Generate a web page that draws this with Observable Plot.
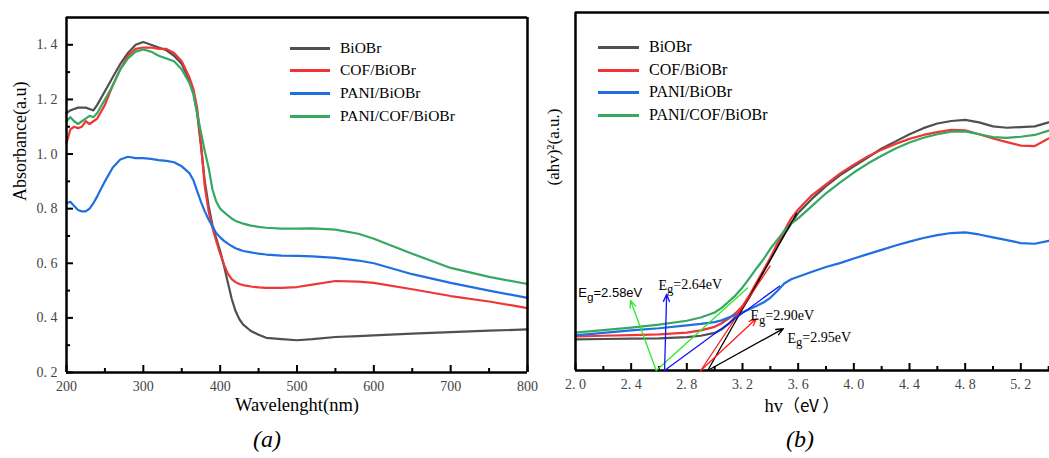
<!DOCTYPE html>
<html><head><meta charset="utf-8">
<script src="https://cdn.jsdelivr.net/npm/d3@7"></script>
<script src="https://cdn.jsdelivr.net/npm/@observablehq/plot@0.6"></script>
<style>
body{margin:0;background:#fff;}
#wrap{position:relative;width:1049px;height:458px;overflow:hidden;background:#fff;}
#left,#right{position:absolute;top:0;}
#left{left:0px;width:545px;} #right{left:540px;width:546px;}
#left svg,#right svg{max-width:none !important;}
.row{position:absolute;display:flex;align-items:center;height:22px;white-space:nowrap;font-family:"Liberation Serif",serif;color:#000;}
.sw{display:inline-block;width:41px;height:3px;margin-right:10px;}
.cap{position:absolute;font-family:"Liberation Serif",serif;font-style:italic;font-size:24px;transform:translateX(-50%);}
</style></head>
<body><div id="wrap"><div id="left"></div><div id="right"></div></div>
<script>
// ---------- shared ----------
const seriesNames = ["BiOBr", "COF/BiOBr", "PANI/BiOBr", "PANI/COF/BiOBr"];
const seriesColors = ["#505050", "#ee3636", "#1f6fe0", "#35a862"];
const SERIF = "'Liberation Serif', 'Times New Roman', serif";

// ---------- panel (a): absorbance ----------
const wavelength = [200,205,210,215,220,225,230,235,240,250,260,270,280,290,300,310,320,330,340,350,360,365,370,375,380,385,390,395,400,405,410,415,420,425,430,440,450,460,480,500,520,550,580,600,650,700,750,800];
const absBiOBr   = [1.15,1.16,1.165,1.17,1.17,1.17,1.165,1.16,1.18,1.23,1.28,1.33,1.37,1.40,1.41,1.40,1.39,1.38,1.36,1.33,1.27,1.23,1.15,1.03,0.90,0.81,0.74,0.69,0.645,0.59,0.53,0.47,0.425,0.395,0.375,0.352,0.338,0.327,0.322,0.318,0.322,0.33,0.333,0.336,0.342,0.348,0.353,0.358];
const absCOF     = [1.04,1.09,1.10,1.095,1.10,1.12,1.11,1.12,1.13,1.18,1.25,1.31,1.36,1.385,1.39,1.39,1.385,1.385,1.37,1.34,1.28,1.24,1.17,1.04,0.88,0.79,0.73,0.68,0.635,0.595,0.562,0.542,0.531,0.524,0.52,0.515,0.512,0.51,0.51,0.513,0.522,0.535,0.533,0.528,0.505,0.48,0.46,0.436];
const absPANI    = [0.82,0.825,0.81,0.795,0.79,0.79,0.80,0.82,0.845,0.90,0.95,0.98,0.99,0.985,0.985,0.982,0.978,0.975,0.97,0.955,0.93,0.905,0.865,0.825,0.79,0.76,0.735,0.71,0.695,0.682,0.672,0.663,0.655,0.65,0.645,0.64,0.635,0.632,0.628,0.627,0.625,0.62,0.61,0.60,0.56,0.528,0.50,0.473];
const absPANICOF = [1.12,1.135,1.12,1.11,1.12,1.13,1.14,1.135,1.15,1.20,1.25,1.31,1.35,1.375,1.383,1.375,1.36,1.35,1.34,1.31,1.26,1.22,1.15,1.08,1.01,0.95,0.87,0.825,0.80,0.787,0.775,0.764,0.755,0.75,0.745,0.738,0.733,0.73,0.727,0.727,0.728,0.723,0.708,0.69,0.635,0.583,0.55,0.524];
const absXTicksMajor = [200,300,400,500,600,700,800];
const absXTicksMinor = [250,350,450,550,650,750];
const absYTicksMajor = [0.2,0.4,0.6,0.8,1.0,1.2,1.4];
const absYTicksMinor = [0.3,0.5,0.7,0.9,1.1,1.3];
const absXDomain = [200, 800];
const absYDomain = [0.2, 1.5];

// ---------- panel (b): Tauc plot ----------
const energy = [2.0,2.2,2.4,2.6,2.8,2.9,3.0,3.05,3.1,3.15,3.2,3.25,3.3,3.35,3.4,3.45,3.5,3.55,3.6,3.7,3.8,3.9,4.0,4.1,4.2,4.3,4.4,4.5,4.6,4.7,4.8,4.9,5.0,5.1,5.2,5.3,5.4];
const taucBiOBr   = [0.087,0.088,0.089,0.090,0.093,0.097,0.105,0.115,0.13,0.15,0.175,0.205,0.24,0.275,0.31,0.345,0.38,0.41,0.44,0.48,0.515,0.545,0.57,0.595,0.62,0.64,0.66,0.677,0.69,0.697,0.70,0.693,0.682,0.678,0.68,0.682,0.693];
const taucCOF     = [0.095,0.097,0.099,0.101,0.106,0.112,0.122,0.132,0.145,0.16,0.18,0.21,0.245,0.28,0.315,0.355,0.39,0.425,0.45,0.49,0.52,0.55,0.575,0.598,0.617,0.633,0.647,0.658,0.666,0.672,0.671,0.66,0.648,0.638,0.628,0.627,0.648];
const taucPANI    = [0.098,0.105,0.112,0.118,0.126,0.130,0.135,0.14,0.148,0.155,0.163,0.171,0.18,0.19,0.203,0.222,0.243,0.255,0.262,0.276,0.289,0.30,0.313,0.325,0.337,0.349,0.36,0.37,0.378,0.384,0.386,0.38,0.372,0.364,0.356,0.354,0.362];
const taucPANICOF = [0.106,0.113,0.12,0.128,0.139,0.148,0.162,0.175,0.192,0.21,0.232,0.258,0.285,0.31,0.34,0.365,0.39,0.41,0.425,0.46,0.495,0.525,0.553,0.578,0.60,0.62,0.637,0.65,0.66,0.667,0.668,0.66,0.652,0.65,0.653,0.658,0.67];
const eVTicksMajor = [2.0,2.4,2.8,3.2,3.6,4.0,4.4,4.8,5.2,5.6];
const eVTicksMinor = [2.2,2.6,3.0,3.4,3.8,4.2,4.6,5.0,5.4];
const eVTickLabels = [2.0,2.4,2.8,3.2,3.6,4.0,4.4,4.8,5.2];
const eVXDomain = [2.0, 5.6];
const taucYDomain = [0, 1];

// band-gap tangents and annotation arrows (order: BiOBr, COF/BiOBr, PANI/BiOBr, PANI/COF/BiOBr)
const bandGap      = [2.95, 2.90, 2.64, 2.58];
const tangentEndX  = [3.59, 3.40, 3.47, 3.24];
const tangentEndY  = [0.44, 0.293, 0.237, 0.232];
const tangentColor = ["#000000", "#ff1a1a", "#1010ff", "#2ee82e"];
const arrowHeadX   = [3.494, 3.30, 2.655, 2.395];
const arrowHeadY   = [0.117, 0.145, 0.213, 0.196];
const egLabelX     = [3.523, 3.257, 2.596, 2.02];
const egLabelY     = [0.078, 0.14, 0.226, 0.204];
const egLabelText  = ["Eg=2.95eV", "Eg=2.90eV", "Eg=2.64eV", "Eg=2.58eV"];

// ---------- build tables ----------
const absSeries = [absBiOBr, absCOF, absPANI, absPANICOF];
const absRows = absSeries.flatMap((vals, s) => vals.map((v, i) => ({x: wavelength[i], y: v, s: seriesNames[s]})));
const taucSeries = [taucBiOBr, taucCOF, taucPANI, taucPANICOF];
const taucRows = taucSeries.flatMap((vals, s) => vals.map((v, i) => ({x: energy[i], y: v, s: seriesNames[s]})));
const fmt = d => d.toFixed(1).replace(".", ". ");

// thick frame drawn as rules on the domain edges; inward ticks as short rules
function frameMarks(xd, yd, sides) {
  const m = [];
  if (sides.includes("b")) m.push(Plot.ruleY([yd[0]], {stroke: "#000", strokeWidth: 2.5}));
  if (sides.includes("t")) m.push(Plot.ruleY([yd[1]], {stroke: "#000", strokeWidth: 2.5}));
  if (sides.includes("l")) m.push(Plot.ruleX([xd[0]], {stroke: "#000", strokeWidth: 2.5}));
  if (sides.includes("r")) m.push(Plot.ruleX([xd[1]], {stroke: "#000", strokeWidth: 2.5}));
  return m;
}
function xTickMarks(ticks, yd, frac) {
  return Plot.ruleX(ticks, {x: d => d, y1: () => yd[0], y2: () => yd[0] + (yd[1] - yd[0]) * frac, stroke: "#000", strokeWidth: 2});
}
function yTickMarks(ticks, xd, frac) {
  return Plot.ruleY(ticks, {y: d => d, x1: () => xd[0], x2: () => xd[0] + (xd[1] - xd[0]) * frac, stroke: "#000", strokeWidth: 2});
}

const left = Plot.plot({
  width: 545, height: 420,
  marginLeft: 66, marginRight: 18, marginTop: 17, marginBottom: 48,
  x: {domain: absXDomain},
  y: {domain: absYDomain},
  color: {domain: seriesNames, range: seriesColors},
  marks: [
    Plot.line(absRows, {x: "x", y: "y", z: "s", stroke: "s", strokeWidth: 2.2}),
    ...frameMarks(absXDomain, absYDomain, "btlr"),
    xTickMarks(absXTicksMinor, absYDomain, 4 / 355),
    xTickMarks(absXTicksMajor, absYDomain, 7 / 355),
    yTickMarks(absYTicksMinor, absXDomain, 4 / 461),
    yTickMarks(absYTicksMajor, absXDomain, 7 / 461),
    Plot.axisX(absXTicksMajor, {tickSize: 0, tickPadding: 9, fontSize: 14, fill: "#444", fontFamily: SERIF, label: null, tickFormat: d => String(d)}),
    Plot.axisY(absYTicksMajor, {tickSize: 0, tickPadding: 9, fontSize: 14, fill: "#444", fontFamily: SERIF, label: null, tickFormat: fmt}),
    Plot.text(["Wavelenght(nm)"], {text: d => d, frameAnchor: "bottom", dy: 38, fontSize: 18.5, fill: "#000", fontFamily: SERIF}),
    Plot.text(["Absorbance(a.u)"], {text: d => d, frameAnchor: "left", dx: -46, dy: 6, rotate: -90, fontSize: 18, fill: "#000", fontFamily: SERIF})
  ]
});
left.setAttribute("font-family", SERIF);
document.getElementById("left").appendChild(left);

const rightMarks = [
  Plot.line(taucRows, {x: "x", y: "y", z: "s", stroke: "s", strokeWidth: 2.2}),
  ...frameMarks(eVXDomain, taucYDomain, "btl"),
  xTickMarks(eVTicksMinor, taucYDomain, 4 / 358),
  xTickMarks(eVTicksMajor, taucYDomain, 7 / 358),
  Plot.axisX(eVTickLabels, {tickSize: 0, tickPadding: 9, fontSize: 14, fill: "#444", fontFamily: SERIF, label: null, tickFormat: fmt}),
  Plot.text(["hv（eV ）"], {text: d => d, frameAnchor: "bottom", dy: 41, dx: -24, fontSize: 18.5, fill: "#000", fontFamily: SERIF}),
  Plot.text(["(ahv)²(a.u.)"], {text: d => d, frameAnchor: "left", dx: -22, dy: -6, rotate: -90, fontSize: 17, fill: "#000", fontFamily: SERIF})
];
bandGap.forEach((eg, i) => {
  rightMarks.push(Plot.link([i], {x1: () => eg, y1: () => 0, x2: () => tangentEndX[i], y2: () => tangentEndY[i], stroke: tangentColor[i], strokeWidth: 1.3}));
});
bandGap.forEach((eg, i) => {
  rightMarks.push(Plot.arrow([i], {x1: () => eg, y1: () => 0, x2: () => arrowHeadX[i], y2: () => arrowHeadY[i], stroke: tangentColor[i], strokeWidth: 1.3, headLength: 9, headAngle: 45}));
});
egLabelText.forEach((t, i) => {
  const sans = i === 3;
  rightMarks.push(Plot.text([t], {text: d => d, x: () => egLabelX[i], y: () => egLabelY[i], textAnchor: "start", lineAnchor: "bottom",
    fontSize: sans ? 13 : 14, fontFamily: sans ? "'Liberation Sans', Arial, sans-serif" : SERIF, fill: "#000"}));
});

const right = Plot.plot({
  width: 546, height: 420,
  marginLeft: 35, marginRight: 10, marginTop: 12, marginBottom: 50,
  x: {domain: eVXDomain},
  y: {domain: taucYDomain, axis: null},
  color: {domain: seriesNames, range: seriesColors},
  marks: rightMarks
});
right.setAttribute("font-family", SERIF);
document.getElementById("right").appendChild(right);

// subscript g in "Eg", and CJK parentheses in x title
const NS = "http://www.w3.org/2000/svg";
right.querySelectorAll("text").forEach(el => {
  const t = el.textContent;
  if (t.startsWith("Eg=")) {
    while (el.firstChild) el.removeChild(el.firstChild);
    el.appendChild(document.createTextNode("E"));
    const g = document.createElementNS(NS, "tspan");
    g.setAttribute("dy", "0.3em"); g.setAttribute("font-size", "0.9em"); g.textContent = "g";
    const rest = document.createElementNS(NS, "tspan");
    rest.setAttribute("dy", "-0.3em"); rest.textContent = t.slice(2);
    el.appendChild(g); el.appendChild(rest);
  } else if (t === "hv（eV ）") {
    while (el.firstChild) el.removeChild(el.firstChild);
    el.appendChild(document.createTextNode("hv"));
    const p = document.createElementNS(NS, "tspan");
    p.setAttribute("font-family", "'Noto Sans CJK SC', sans-serif"); p.setAttribute("font-size", "17"); p.textContent = "（eV ）";
    el.appendChild(p);
  }
});

// ---------- legends ----------
function legend(leftPx, rowsY, fontSize, swatchW) {
  const wrap = document.getElementById("wrap");
  seriesNames.forEach((name, i) => {
    const row = document.createElement("div");
    row.className = "row";
    row.style.left = leftPx + "px";
    row.style.top = (rowsY[i] - 11) + "px";
    row.style.fontSize = fontSize + "px";
    const sw = document.createElement("span");
    sw.className = "sw"; sw.style.background = seriesColors[i]; sw.style.width = swatchW + "px";
    const lab = document.createElement("span");
    lab.textContent = name;
    row.appendChild(sw); row.appendChild(lab);
    wrap.appendChild(row);
  });
}
legend(290, [48, 70, 93, 116], 15.5, 40);
legend(598, [47, 70, 92, 115], 16, 41);

// ---------- captions ----------
[["(a)", 267], ["(b)", 800]].forEach(([t, cx]) => {
  const c = document.createElement("div");
  c.className = "cap"; c.textContent = t;
  c.style.left = cx + "px"; c.style.top = "426px";
  document.getElementById("wrap").appendChild(c);
});
</script>
</body></html>
